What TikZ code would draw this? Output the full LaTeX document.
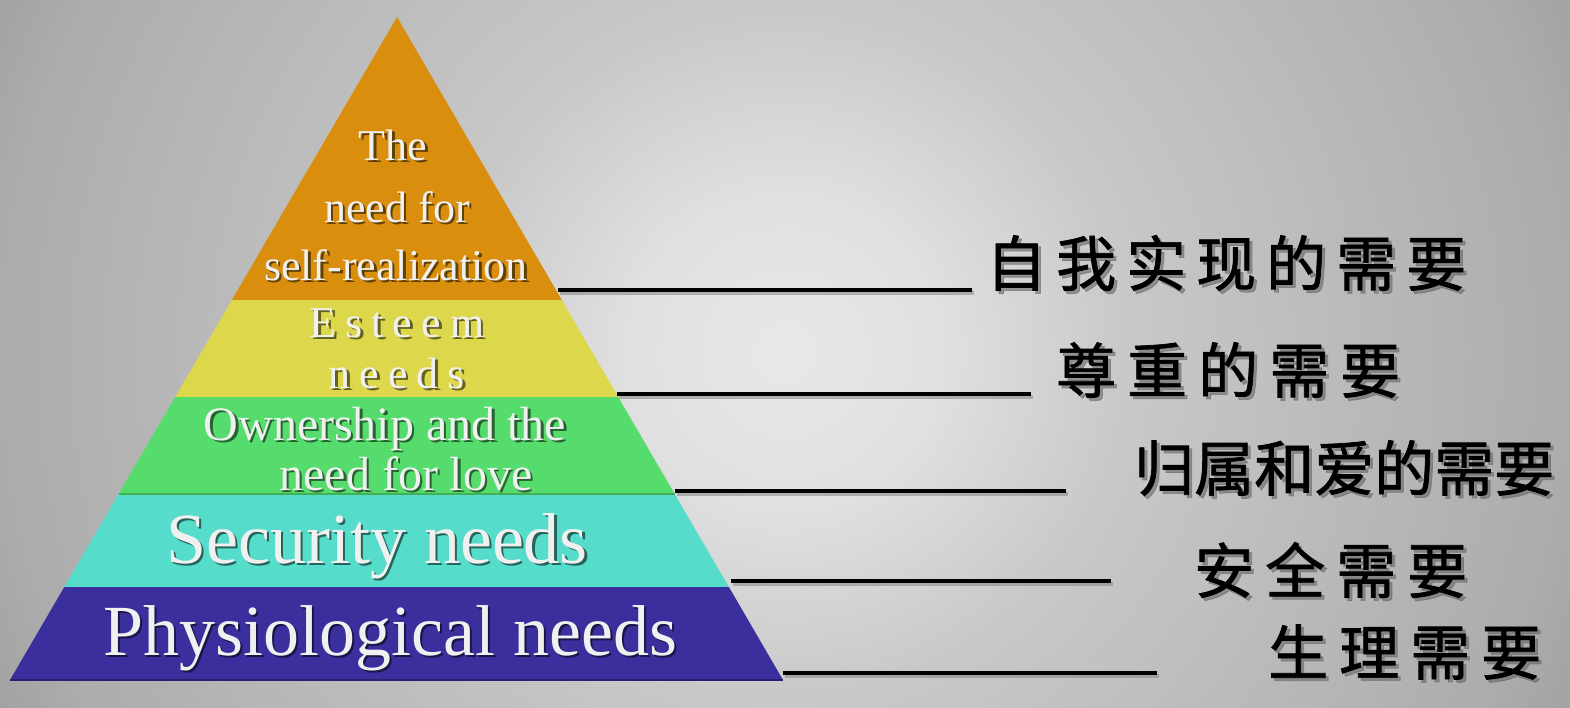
\documentclass[tikz,border=0pt]{standalone}
\usepackage{fontspec}
\setmainfont{Liberation Serif}
\newfontfamily\cjk{Noto Sans CJK SC}[FakeBold=1.2]
\definecolor{layerA}{HTML}{D98F0D}
\definecolor{layerB}{HTML}{DDD74B}
\definecolor{layerC}{HTML}{55DC6C}
\definecolor{layerD}{HTML}{56DCCB}
\definecolor{layerE}{HTML}{3A2F9D}
\definecolor{txtc}{HTML}{F0F0F0}
\definecolor{bgc0}{HTML}{E8E8E8}
\definecolor{bgc1}{HTML}{E0E0E0}
\definecolor{bgc2}{HTML}{C8C8C8}
\definecolor{bgc3}{HTML}{ACACAC}
\definecolor{bgc4}{HTML}{A0A0A0}
\pgfdeclareradialshading{bgshade}{\pgfpoint{0bp}{0bp}}{color(0bp)=(bgc0); color(5bp)=(bgc1); color(11bp)=(bgc2); color(25bp)=(bgc3); color(28bp)=(bgc4); color(50bp)=(bgc4)}
% letter spacing macro
\def\lspA#1{#1\lspB}
\def\lspB#1{\ifx#1\relax\else\kern\lspsep\relax#1\expandafter\lspB\fi}
\newcommand\lsp[2]{\def\lspsep{#1}\lspA#2\relax}
\newcommand\fsz[1]{\fontsize{#1}{#1}\selectfont}
\tikzset{
  en/.style={text=txtc, anchor=base, inner sep=0pt},
  enshadow/.style={text=black, opacity=.55, anchor=base, inner sep=0pt, xshift=2.5pt, yshift=-2.5pt},
  zh/.style={text=black, anchor=west, inner sep=0pt, font=\cjk\fsz{60}},
  zhshadow/.style={text=black!60, opacity=.6, anchor=west, inner sep=0pt, font=\cjk\fsz{60}, xshift=3pt, yshift=-3pt},
  lead/.style={line width=3.5pt, black},
  leadshadow/.style={line width=4pt, black!45, opacity=.6},
}
\begin{document}
\begin{tikzpicture}[x=1pt,y=-1pt]
\useasboundingbox (0,0) rectangle (1570,707);
% background
\begin{scope}
\clip (0,0) rectangle (1570,707);
\shade[shading=bgshade] (0,-432) rectangle (1570,1138);
\end{scope}
% pyramid corners
\coordinate (A) at (397,17);
\coordinate (L1) at (231.8,300); \coordinate (R1) at (561.8,300);
\coordinate (L2) at (175.2,397); \coordinate (R2) at (618.2,397);
\coordinate (L3) at (118.6,494); \coordinate (R3) at (674.7,494);
\coordinate (L4) at (64.3,587);  \coordinate (R4) at (728.9,587);
\coordinate (L5) at (10,680);    \coordinate (R5) at (783,680);
\fill[layerA] (A) -- (R1) -- (L1) -- cycle;
\fill[layerB] (L1) -- (R1) -- (R2) -- (L2) -- cycle;
\fill[layerC] (L2) -- (R2) -- (R3) -- (L3) -- cycle;
\fill[layerD] (L3) -- (R3) -- (R4) -- (L4) -- cycle;
\fill[layerE] (L4) -- (R4) -- (R5) -- (L5) -- cycle;
\draw[layerC!80!black, line width=1.5pt] (L3) -- (R3);
\draw[layerE!70!black, line width=2pt] (L5) -- (R5);
% pyramid texts
\node[enshadow, font=\fsz{44}] at (393,160) {The};
\node[en, font=\fsz{44}] (t1a) at (393,160) {The};
\node[enshadow, font=\fsz{44}] at (397,222) {need for};
\node[en, font=\fsz{44}] (t1b) at (397,222) {need for};
\node[enshadow, font=\fsz{44}] at (396,280) {self-realization};
\node[en, font=\fsz{44}] (t1c) at (396,280) {self-realization};
\node[enshadow, font=\fsz{44}] at (397,337) {\lsp{9pt}{Esteem}};
\node[en, font=\fsz{44}] (t2a) at (397,337) {\lsp{9pt}{Esteem}};
\node[enshadow, font=\fsz{44}] at (397,388) {\lsp{9pt}{needs}};
\node[en, font=\fsz{44}] (t2b) at (397,388) {\lsp{9pt}{needs}};
\node[enshadow, font=\fsz{48}] at (385,440) {Ownership and the};
\node[en, font=\fsz{48}] (t3a) at (385,440) {Ownership and the};
\node[enshadow, font=\fsz{48}] at (406,490) {need for love};
\node[en, font=\fsz{48}] (t3b) at (406,490) {need for love};
\node[enshadow, font=\fsz{72}] at (377,563) {Security needs};
\node[en, font=\fsz{72}] (t4) at (377,563) {Security needs};
\node[enshadow, font=\fsz{72}] at (390,655) {Physiological needs};
\node[en, font=\fsz{72}] (t5) at (390,655) {Physiological needs};
% leader lines
\coordinate (s1) at (558,290); \coordinate (e1) at (972,290);
\coordinate (s2) at (617,394); \coordinate (e2) at (1031,394);
\coordinate (s3) at (675,491); \coordinate (e3) at (1066,491);
\coordinate (s4) at (731,581); \coordinate (e4) at (1111,581);
\coordinate (s5) at (783,673); \coordinate (e5) at (1157,673);
\foreach \i in {1,...,5}{
  \draw[leadshadow] ([shift={(2,3)}]s\i) -- ([shift={(2,3)}]e\i);
  \draw[lead] (s\i) -- (e\i);
}
% Chinese labels
\node[zhshadow] at (986,263) {\lsp{10pt}{自我实现的需要}};
\node[zh] (z1) at (986,263) {\lsp{10pt}{自我实现的需要}};
\node[zhshadow] at (1056,370) {\lsp{11pt}{尊重的需要}};
\node[zh] (z2) at (1056,370) {\lsp{11pt}{尊重的需要}};
\node[zhshadow] at (1134,468) {\lsp{0pt}{归属和爱的需要}};
\node[zh] (z3) at (1134,468) {\lsp{0pt}{归属和爱的需要}};
\node[zhshadow] at (1194,570) {\lsp{11pt}{安全需要}};
\node[zh] (z4) at (1194,570) {\lsp{11pt}{安全需要}};
\node[zhshadow] at (1268,652) {\lsp{11pt}{生理需要}};
\node[zh] (z5) at (1268,652) {\lsp{11pt}{生理需要}};
\end{tikzpicture}
\end{document}
